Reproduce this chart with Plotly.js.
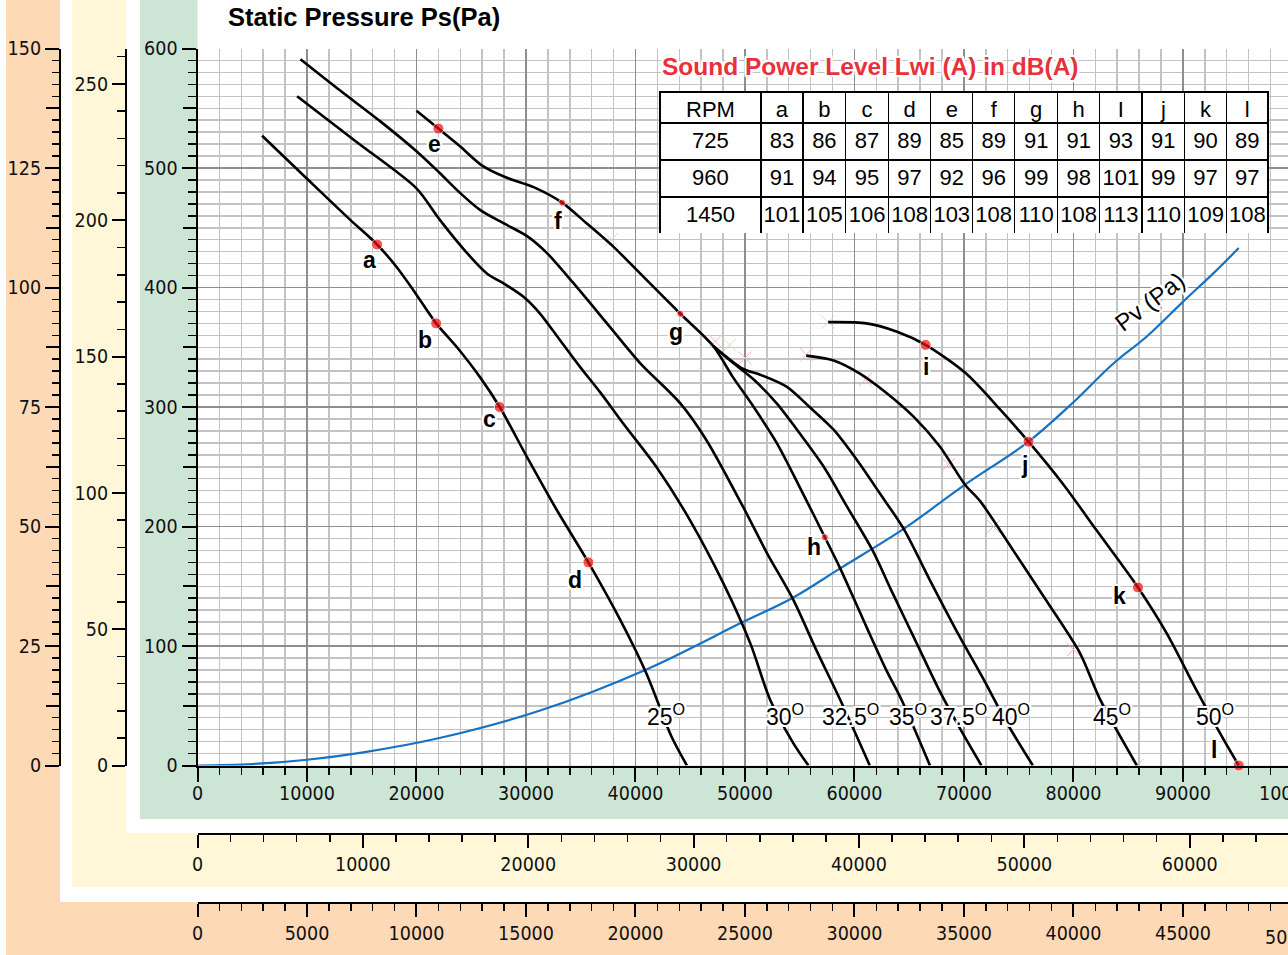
<!DOCTYPE html>
<html>
<head>
<meta charset="utf-8">
<script src="https://cdn.plot.ly/plotly-3.0.1.min.js"></script>
<style>
  html, body { margin: 0; padding: 0; background: #fff; }
  #chart { width: 1288px; height: 955px; }
</style>
</head>
<body>
<div id="chart"></div>
<script>
// Axial fan performance chart: static pressure (Pa) against air volume (m³/h)
// for each blade angle at 1450 rpm, with 960 and 725 rpm scales alongside.

// ---- blade-angle curves (air volume m³/h, static pressure Pa) ----
const angleLabels = ['25', '30', '32.5', '35', '37.5', '40', '45', '50'];

const q25 = [5900, 10000, 13900, 16400, 18200, 19700, 21800, 23700, 25800, 27600, 30100, 32800, 35700, 38600, 41000, 43300, 44700];
const p25 = [527, 491, 457, 436, 417, 398, 370, 350, 325, 300, 258, 214, 170, 122, 77, 24, 0];

const q30 = [9100, 14500, 20000, 22100, 24600, 26400, 28200, 29800, 31300, 33100, 34900, 36800, 38900, 41900, 45000, 48000, 50500, 52300, 54400, 55800];
const p30 = [560, 522, 483, 457, 429, 412, 402, 392, 378, 356, 334, 312, 286, 250, 205, 153, 102, 55, 19, 0];

const q325 = [9400, 13000, 16700, 20000, 22100, 24000, 25800, 27900, 30100, 31900, 34300, 37400, 40400, 44100, 46500, 49800, 52000, 54400, 56500, 58700, 61400];
const p325 = [591, 565, 539, 514, 496, 479, 465, 454, 443, 429, 404, 370, 337, 303, 272, 217, 178, 139, 97, 55, 0];

const q35 = [20000, 22000, 24000, 26000, 28200, 30700, 33300, 35500, 38000, 40400, 44100, 47100, 48900, 50800, 52900, 55000, 57300, 58700, 61100, 62900, 64300, 66900];
const p35 = [548, 533, 518, 502, 492, 484, 471, 454, 434, 412, 378, 351, 325, 300, 270, 233, 191, 165, 116, 80, 55, 0];

const q375 = [47100, 48900, 50800, 52900, 55000, 57200, 59300, 61600, 63500, 65700, 67800, 69700, 71600];
const p375 = [351, 337, 323, 303, 278, 250, 217, 181, 144, 102, 62, 30, 0];

const q40 = [47100, 49800, 51400, 53800, 55900, 58100, 60200, 62300, 64500, 66900, 69600, 71800, 73900, 76300];
const p40 = [351, 332, 327, 317, 300, 281, 256, 228, 198, 155, 108, 72, 36, 0];

const q45 = [55600, 58100, 60500, 62900, 65400, 67800, 70100, 71500, 74500, 77600, 80600, 82400, 85800];
const p45 = [343, 339, 328, 312, 292, 267, 235, 221, 180, 137, 94, 56, 0];

const q50 = [57600, 61100, 63900, 66500, 70200, 73300, 75900, 79100, 82100, 85900, 88500, 91300, 93700, 95100];
const p50 = [371, 370, 363, 352, 328, 298, 271, 235, 197, 149, 111, 62, 22, 0];

// ---- dynamic pressure line Pv ----
const pvQ = [0, 5000, 10000, 15000, 22100, 31300, 40900, 49800, 54300, 58700, 64500, 70100, 75900, 80000, 83600, 86700, 90000, 92800, 95100];
const pvP = [0, 1.2, 4.8, 10.8, 23, 46, 80, 120, 140, 165, 198, 235, 271, 304, 336, 359, 388, 412, 433];

// ---- sound measurement points a..l ----
const pointNames = ['a', 'b', 'c', 'd', 'e', 'f', 'g', 'h', 'i', 'j', 'k', 'l'];
const pointQ = [16400, 21800, 27600, 35700, 22000, 33300, 44100, 57300, 66500, 75900, 85900, 95100];
const pointP = [436, 370, 300, 170, 533, 471, 378, 191, 352, 271, 149, 0];

// ---- light construction marks ----
const markQ = [47300, 48600, 50000, 55600, 57600, 61000, 68600, 72700, 80000, 37800, 85800];
const markP = [355, 352, 341, 344, 371, 323, 252, 200, 97, 440, 0];

// ---- sound power table ----
const tableHeader = ['RPM', 'a', 'b', 'c', 'd', 'e', 'f', 'g', 'h', 'I', 'j', 'k', 'l'];
const rpmValues = [725, 960, 1450];
const lwi725 = [83, 86, 87, 89, 85, 89, 91, 91, 93, 91, 90, 89];
const lwi960 = [91, 94, 95, 97, 92, 96, 99, 98, 101, 99, 97, 97];
const lwi1450 = [101, 105, 106, 108, 103, 108, 110, 108, 113, 110, 109, 108];

// ---------------------------------------------------------------------------
const W = 1288, H = 955;
const fx = v => v / W;          // pixel column -> paper x
const fy = v => 1 - v / H;      // pixel row    -> paper y
const QMAX = 99600;
const r960 = 960 / 1450, r725 = 725 / 1450;

const SANS = '"Liberation Sans", Arial, Helvetica, sans-serif';
const NARROW = '"Liberation Sans Narrow", "Arial Narrow", "DejaVu Sans Condensed", sans-serif';
const HALO = '2px 2px 0 #fff, -2px -2px 0 #fff, 2px -2px 0 #fff, -2px 2px 0 #fff, 0 2px 0 #fff, 2px 0 0 #fff, 0 -2px 0 #fff, -2px 0 0 #fff';

const ORANGE = '#fdd9b6', YELLOW = '#fff7d7', GREEN = '#cde5d5';
const GRID_MINOR = '#c3c3c3', GRID_MAJOR = '#8e8e8e';

const curveSets = [[q25, p25], [q30, p30], [q325, p325], [q35, p35], [q375, p375], [q40, p40], [q45, p45], [q50, p50]];

const traces = [];

traces.push({
  type: 'scatter', mode: 'markers', x: markQ, y: markP,
  marker: {
    symbol: 'x-thin-open', size: 13,
    color: ['#f2b8b8', '#d3e3c3', '#f2b8b8', '#f2b8b8', '#d3e3c3', '#f2b8b8', '#f2b8b8', '#f2b8b8', '#f2b8b8', '#d3e3c3', '#f2b8b8'],
    line: { width: 1 }
  },
  hoverinfo: 'skip', showlegend: false
});

traces.push({
  type: 'scatter', mode: 'lines', x: pvQ, y: pvP,
  line: { color: '#1572c4', width: 2.2, shape: 'spline', smoothing: 1 },
  hoverinfo: 'skip', showlegend: false
});

curveSets.forEach(([q, p], i) => {
  traces.push({
    type: 'scatter', mode: 'lines', x: q, y: p, name: angleLabels[i] + '°',
    line: { color: '#000', width: 2.6, shape: 'spline', smoothing: 0.8 },
    hoverinfo: 'skip', showlegend: false
  });
});

traces.push({
  type: 'scatter', mode: 'markers', x: pointQ, y: pointP, cliponaxis: false,
  marker: { color: '#f01010', size: [11, 11, 11, 11, 11, 7, 7, 7, 11, 11, 11, 11] },
  hoverinfo: 'skip', showlegend: false
});

// helper traces so the secondary scales are created
[['x2', 'y2'], ['x3', 'y3'], ['x', 'y4'], ['x', 'y5'], ['x', 'y6']].forEach(([xa, ya]) => {
  traces.push({ type: 'scatter', x: [], y: [], xaxis: xa, yaxis: ya, hoverinfo: 'skip', showlegend: false });
});

// sound power level table
const tableColumns = [rpmValues].concat(lwi725.map((v, i) => [lwi725[i], lwi960[i], lwi1450[i]]));
traces.push({
  type: 'table',
  domain: { x: [fx(660), fx(1268)], y: [fy(234), fy(92)] },
  columnwidth: [101, 42, 43, 42.5, 42.5, 42, 42, 43, 42, 42.5, 42.5, 42, 41.5],
  header: {
    values: tableHeader, height: 31, align: 'center',
    fill: { color: '#fff' }, line: { color: '#000', width: 1.3 },
    font: { family: SANS, size: 22, color: '#000' }
  },
  cells: {
    values: tableColumns, height: 37, align: 'center',
    fill: { color: '#fff' }, line: { color: '#000', width: 1.3 },
    font: { family: SANS, size: 22, color: '#000' }
  }
});

// ---- axes ----
const tickFont = { family: NARROW, size: 19.5, color: '#111' };
const axisBase = {
  ticks: 'outside', tickcolor: '#000', showline: true, linecolor: '#000', linewidth: 2,
  zeroline: false, fixedrange: true, tickfont: tickFont
};
const bareTicks = {
  ticks: 'outside', tickcolor: '#000', tickwidth: 2, showticklabels: false,
  showline: false, zeroline: false, showgrid: false, fixedrange: true, tickmode: 'array'
};

const halfSteps = (step, max) => { const v = []; for (let t = step / 2; t < max; t += step) v.push(t); return v; };

const layout = {
  width: W, height: H,
  margin: { l: 0, r: 0, t: 0, b: 0, pad: 0 },
  paper_bgcolor: '#fff', plot_bgcolor: 'rgba(0,0,0,0)',
  showlegend: false,
  font: { family: SANS, color: '#000' },
  title: {
    text: '<b>Static Pressure Ps(Pa)</b>',
    font: { family: SANS, size: 25.5, color: '#000' },
    xref: 'container', yref: 'container',
    x: fx(228), xanchor: 'left', y: fy(17), yanchor: 'middle'
  },
  xaxis: Object.assign({}, axisBase, {
    domain: [fx(197.5), 1], range: [0, QMAX], anchor: 'y',
    tickmode: 'linear', tick0: 0, dtick: 10000, tickformat: 'd',
    ticklen: 14, tickwidth: 2, ticklabelstandoff: -5,
    showgrid: true, gridcolor: GRID_MAJOR, gridwidth: 1.5,
    minor: { tickmode: 'linear', tick0: 0, dtick: 2000, ticks: 'outside', ticklen: 7, tickwidth: 1.5, tickcolor: '#000', showgrid: true, gridcolor: GRID_MINOR, gridwidth: 1.5 }
  }),
  yaxis: Object.assign({}, axisBase, {
    domain: [fy(765.5), fy(48.5)], range: [0, 600], anchor: 'x',
    tickmode: 'linear', tick0: 0, dtick: 100,
    ticklen: 14, tickwidth: 2, showgrid: false,
    minor: { tickmode: 'linear', tick0: 0, dtick: 10, ticks: 'outside', ticklen: 8, tickwidth: 1.5, tickcolor: '#000', showgrid: true, gridcolor: GRID_MINOR, gridwidth: 1.5 }
  }),
  // darker rules every 100 Pa
  yaxis4: {
    overlaying: 'y', anchor: 'x', side: 'right', range: [0, 600], fixedrange: true,
    tickmode: 'linear', tick0: 0, dtick: 100, ticks: '', showticklabels: false,
    showline: false, zeroline: false, showgrid: true, gridcolor: GRID_MAJOR, gridwidth: 1.5
  },
  // longer unlabelled marks halfway between the pressure labels
  yaxis5: Object.assign({}, bareTicks, {
    overlaying: 'y', anchor: 'x', side: 'left', range: [0, 600],
    tickvals: halfSteps(100, 600), ticklen: 14
  }),
  // 960 rpm scales
  xaxis2: Object.assign({}, axisBase, {
    overlaying: 'x', anchor: 'free', position: fy(834), side: 'bottom',
    range: [0, QMAX * r960], tickmode: 'linear', tick0: 0, dtick: 10000, tickformat: 'd',
    ticklen: 13, tickwidth: 2, showgrid: false,
    minor: { tickmode: 'linear', tick0: 0, dtick: 2000, ticks: 'outside', ticklen: 7, tickwidth: 1.5, tickcolor: '#000', showgrid: false }
  }),
  yaxis2: Object.assign({}, axisBase, {
    overlaying: 'y', anchor: 'free', position: fx(126), side: 'left',
    range: [0, 600 * r960 * r960], tickmode: 'linear', tick0: 0, dtick: 50,
    ticklen: 13, tickwidth: 2, showgrid: false,
    minor: { tickmode: 'linear', tick0: 0, dtick: 10, ticks: 'outside', ticklen: 8, tickwidth: 1.5, tickcolor: '#000', showgrid: false }
  }),
  // 725 rpm scales
  xaxis3: Object.assign({}, axisBase, {
    overlaying: 'x', anchor: 'free', position: fy(903), side: 'bottom',
    range: [0, QMAX * r725], tickmode: 'linear', tick0: 0, dtick: 5000, tickformat: 'd',
    ticklen: 13, tickwidth: 2, showgrid: false,
    minor: { tickmode: 'linear', tick0: 0, dtick: 1000, ticks: 'outside', ticklen: 7, tickwidth: 1.5, tickcolor: '#000', showgrid: false }
  }),
  yaxis3: Object.assign({}, axisBase, {
    overlaying: 'y', anchor: 'free', position: fx(60), side: 'left',
    range: [0, 600 * r725 * r725], tickmode: 'linear', tick0: 0, dtick: 25,
    ticklen: 14, tickwidth: 2, showgrid: false,
    minor: { tickmode: 'linear', tick0: 0, dtick: 2.5, ticks: 'outside', ticklen: 7, tickwidth: 1.5, tickcolor: '#000', showgrid: false }
  }),
  yaxis6: Object.assign({}, bareTicks, {
    overlaying: 'y', anchor: 'free', position: fx(60), side: 'left', range: [0, 600 * r725 * r725],
    tickvals: halfSteps(25, 150), ticklen: 14
  }),
  shapes: [
    { type: 'rect', xref: 'paper', yref: 'paper', x0: fx(6), x1: 1, y0: 0, y1: 1, fillcolor: ORANGE, line: { width: 0 }, layer: 'below' },
    { type: 'rect', xref: 'paper', yref: 'paper', x0: fx(60), x1: 1, y0: fy(902), y1: 1, fillcolor: '#fff', line: { width: 0 }, layer: 'below' },
    { type: 'rect', xref: 'paper', yref: 'paper', x0: fx(72), x1: 1, y0: fy(887), y1: 1, fillcolor: YELLOW, line: { width: 0 }, layer: 'below' },
    { type: 'rect', xref: 'paper', yref: 'paper', x0: fx(126), x1: 1, y0: fy(833), y1: 1, fillcolor: '#fff', line: { width: 0 }, layer: 'below' },
    { type: 'rect', xref: 'paper', yref: 'paper', x0: fx(140), x1: 1, y0: fy(819), y1: 1, fillcolor: GREEN, line: { width: 0 }, layer: 'below' },
    { type: 'rect', xref: 'paper', yref: 'paper', x0: fx(197.5), x1: 1, y0: fy(765.5), y1: 1, fillcolor: '#fff', line: { width: 0 }, layer: 'below' }
  ],
  annotations: []
};

// point letters
const pointLabelShift = [[-8, -16], [-11, -17], [-10, -12], [-13, -18], [-4, -15], [-4, -18], [-4, -18], [-11, -10], [0, -22], [-4, -23], [-19, -9], [-25, 16]];
pointNames.forEach((n, i) => {
  layout.annotations.push({
    x: pointQ[i], y: pointP[i], xref: 'x', yref: 'y', showarrow: false,
    text: '<b>' + n + '</b>', xshift: pointLabelShift[i][0], yshift: pointLabelShift[i][1],
    font: { family: SANS, size: 23, color: '#000', shadow: HALO }
  });
});

// blade angle tags near the foot of each curve
const angleTagQ = [42760, 53650, 59680, 64890, 69540, 74260, 83570, 92920];
angleLabels.forEach((a, i) => {
  layout.annotations.push({
    x: angleTagQ[i], y: 42.5, xref: 'x', yref: 'y', showarrow: false,
    text: a + '<sup>O</sup>',
    font: { family: SANS, size: 23, color: '#000', shadow: HALO }
  });
});

layout.annotations.push({
  x: 86990, y: 388, xref: 'x', yref: 'y', showarrow: false, textangle: -37,
  text: 'Pv (Pa)', font: { family: SANS, size: 24, color: '#000', shadow: HALO }
});

layout.annotations.push({
  x: fx(660), y: fy(67), xref: 'paper', yref: 'paper', xanchor: 'left', yanchor: 'middle', showarrow: false,
  text: '<b>Sound Power Level Lwi (A) in dB(A)</b>',
  font: { family: SANS, size: 24.5, color: '#e8313b', shadow: HALO }
});

// scale labels that run past the right edge
layout.annotations.push({
  x: fx(1292.5), y: fy(793), xref: 'paper', yref: 'paper', xanchor: 'center', yanchor: 'middle', showarrow: false,
  text: '100000', font: tickFont
});
layout.annotations.push({
  x: fx(1292.5), y: fy(937), xref: 'paper', yref: 'paper', xanchor: 'center', yanchor: 'middle', showarrow: false,
  text: '50000', font: tickFont
});

Plotly.newPlot('chart', traces, layout, { staticPlot: true, displayModeBar: false });
</script>
</body>
</html>
